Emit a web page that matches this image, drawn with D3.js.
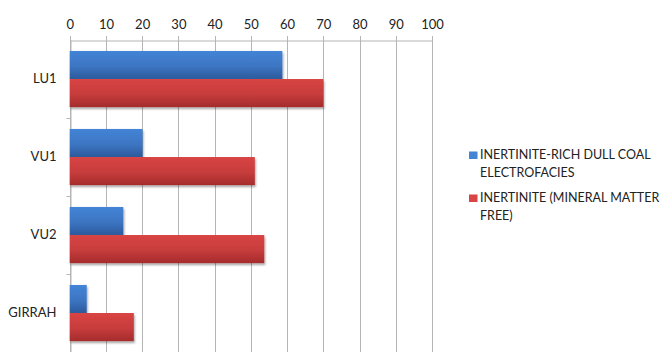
<!DOCTYPE html>
<html>
<head>
<meta charset="utf-8">
<script src="https://cdn.jsdelivr.net/npm/d3@7"></script>
<style>
  html, body { margin: 0; padding: 0; background: #fff; }
  svg { display: block; font-family: Lato, "Liberation Sans", sans-serif; }
</style>
</head>
<body>
<svg id="chart" width="666" height="352"></svg>
<script>
// Categories, top to bottom
const categories = ["LU1", "VU1", "VU2", "GIRRAH"];
// Series names and values (percent)
const seriesNames = ["INERTINITE-RICH DULL COAL ELECTROFACIES", "INERTINITE (MINERAL MATTER FREE)"];
const dullCoal = [58.7, 20.1, 14.8, 4.7];
const inertinite = [70, 51.1, 53.7, 17.7];
const xTicks = [0, 10, 20, 30, 40, 50, 60, 70, 80, 90, 100];
const legendLines = [["INERTINITE-RICH DULL COAL", "ELECTROFACIES"], ["INERTINITE (MINERAL MATTER", "FREE)"]];

const series = [dullCoal, inertinite];
const colors = [["#4484d6", "#2c5a9c"], ["#d94444", "#a52c2c"]];

const svg = d3.select("#chart");
const defs = svg.append("defs");
colors.forEach((c, i) => {
  const g = defs.append("linearGradient").attr("id", "grad" + i)
    .attr("x1", 0).attr("y1", 0).attr("x2", 0).attr("y2", 1);
  g.append("stop").attr("offset", "0%").attr("stop-color", c[0]);
  g.append("stop").attr("offset", "55%").attr("stop-color", d3.interpolateRgb(c[0], c[1])(0.35));
  g.append("stop").attr("offset", "100%").attr("stop-color", c[1]);
});
const shadow = defs.append("filter").attr("id", "shadow")
  .attr("x", "-5%").attr("y", "-20%").attr("width", "115%").attr("height", "160%");
shadow.append("feGaussianBlur").attr("in", "SourceAlpha").attr("stdDeviation", 1.2);
shadow.append("feOffset").attr("dx", 1).attr("dy", 2).attr("result", "b");
shadow.append("feComponentTransfer").append("feFuncA").attr("type", "linear").attr("slope", 0.35);
const merge = shadow.append("feMerge");
merge.append("feMergeNode");
merge.append("feMergeNode").attr("in", "SourceGraphic");

const plotLeft = 69.7, plotRight = 432, plotTop = 40, plotBottom = 352;

const x = d3.scaleLinear().domain([0, 100]).range([plotLeft, plotRight]);
const y = d3.scaleBand().domain(categories).range([plotTop, plotTop + 78 * 4]).paddingInner(0).paddingOuter(0);
const inner = d3.scaleBand().domain([0, 1]).range([0, y.bandwidth()]).paddingInner(0).paddingOuter(0.39);

// Vertical gridlines
svg.append("g").selectAll("line").data(xTicks).join("line")
  .attr("x1", d => Math.round(x(d)) + 0.5).attr("x2", d => Math.round(x(d)) + 0.5)
  .attr("y1", plotTop - 4).attr("y2", plotBottom)
  .attr("stroke", "#b5b5b5").attr("stroke-width", 1);

// Top axis
const xAxis = d3.axisTop(x).tickValues(xTicks).tickSize(0).tickPadding(0);
const gx = svg.append("g").attr("transform", `translate(0,${plotTop + 0.5})`).call(xAxis);
gx.select(".domain").attr("stroke", "#b5b5b5");
gx.selectAll("text").attr("y", -12).attr("font-size", 13).attr("fill", "#222")
  .attr("font-family", "Lato, sans-serif");

// Left axis
const yAxis = d3.axisLeft(y).tickSize(0).tickPadding(14);
const gy = svg.append("g").attr("transform", `translate(${Math.round(plotLeft) + 0.5},0)`).call(yAxis);
gy.select(".domain").attr("stroke", "#b5b5b5");
gy.selectAll("text").attr("font-size", 13).attr("fill", "#222").attr("font-family", "Lato, sans-serif");
// category boundary tick marks
gy.append("g").selectAll("line").data(categories.slice(1)).join("line")
  .attr("x1", -4).attr("x2", 0)
  .attr("y1", d => Math.round(y(d)) + 0.5).attr("y2", d => Math.round(y(d)) + 0.5)
  .attr("stroke", "#b5b5b5");

// Bars
series.forEach((vals, si) => {
  svg.append("g").attr("filter", "url(#shadow)").selectAll("rect").data(categories).join("rect")
    .attr("x", x(0))
    .attr("y", (d) => y(d) + inner(si))
    .attr("width", (d, i) => x(vals[i]) - x(0))
    .attr("height", inner.bandwidth())
    .attr("fill", `url(#grad${si})`);
});

// Legend
const legend = svg.append("g");
const legendY = [159, 202];
legendLines.forEach((lines, i) => {
  legend.append("rect").attr("x", 469).attr("y", legendY[i] - 7.5).attr("width", 8.5).attr("height", 7.5)
    .attr("fill", colors[i][0]);
  lines.forEach((t, j) => {
    legend.append("text").attr("x", 480).attr("y", legendY[i] + j * 18)
      .attr("font-size", 12.5).attr("fill", "#222").text(t);
  });
});
</script>
</body>
</html>
